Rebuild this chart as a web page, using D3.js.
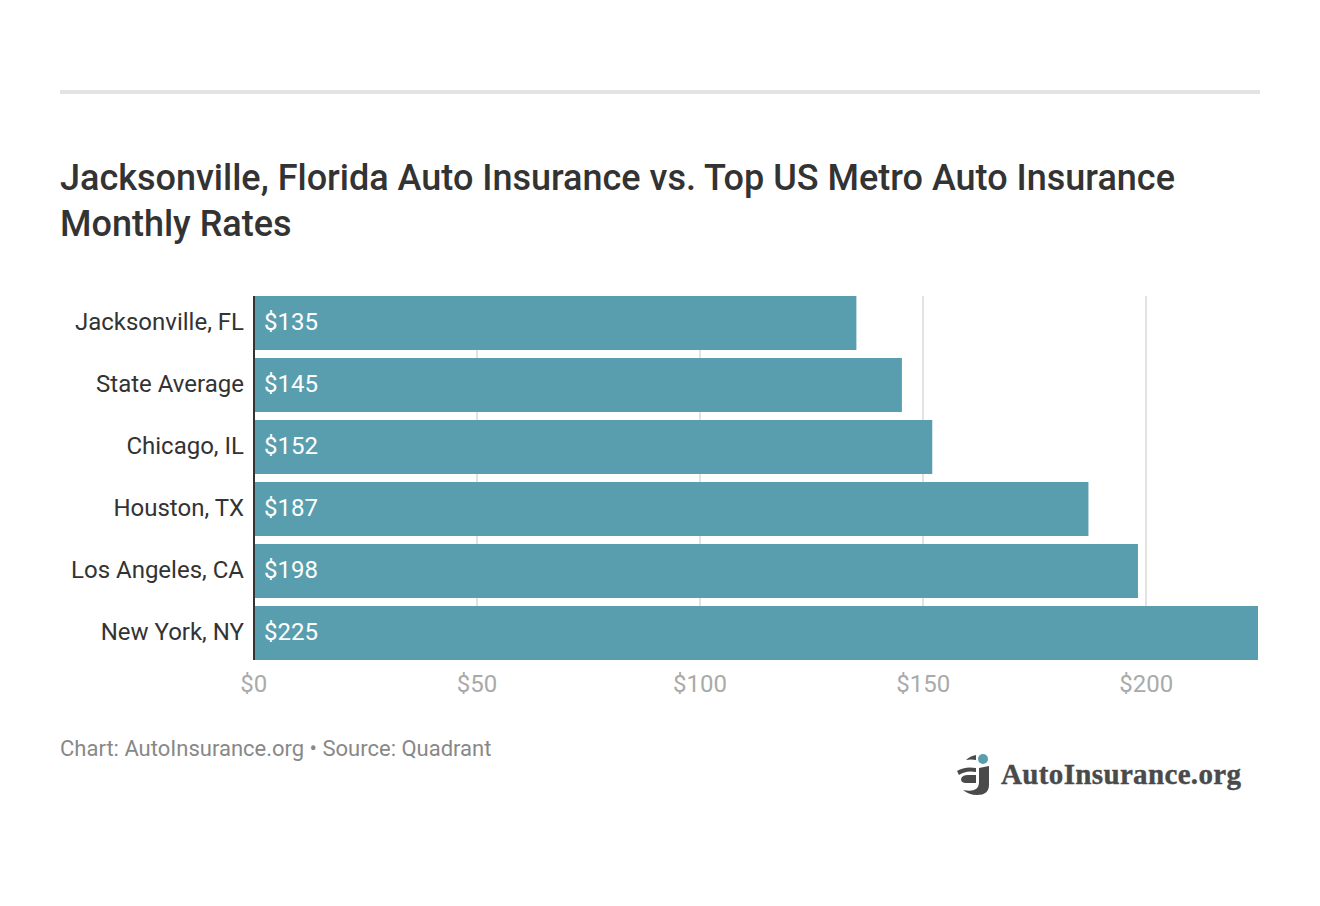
<!DOCTYPE html>
<html>
<head>
<meta charset="utf-8">
<script src="https://cdn.jsdelivr.net/npm/d3@7"></script>
<style>
  html, body { margin: 0; padding: 0; background: #fff; }
  svg { display: block; }
</style>
</head>
<body>
<svg id="chart" width="1320" height="906" font-family="Roboto, sans-serif"></svg>
<script>
// Chart data
var cities = ["Jacksonville, FL", "State Average", "Chicago, IL", "Houston, TX", "Los Angeles, CA", "New York, NY"];
var rates = [135, 145.2, 152, 187, 198.1, 225];
var xTicks = [0, 50, 100, 150, 200];
var titleLines = ["Jacksonville, Florida Auto Insurance vs. Top US Metro Auto Insurance", "Monthly Rates"];
var footer = "Chart: AutoInsurance.org \u2022 Source: Quadrant";

var svg = d3.select("#chart");

// Top rule
svg.append("rect")
  .attr("x", 60).attr("y", 90)
  .attr("width", 1200).attr("height", 4)
  .attr("fill", "#e3e3e3");

// Title
svg.selectAll(".title")
  .data(titleLines)
  .enter()
  .append("text")
  .attr("class", "title")
  .attr("x", 60)
  .attr("y", (d, i) => 190 + i * 46)
  .attr("font-size", 36)
  .attr("font-weight", 500)
  .attr("fill", "#333333")
  .text(d => d);

// Scales
var x = d3.scaleLinear().domain([0, 225]).range([254, 1258]);
var y = d3.scaleBand().domain(cities).range([292, 664]).paddingInner(8 / 62).paddingOuter(4 / 62);

// Grid lines sit behind the bars, snapped to whole pixels so they stay crisp
svg.selectAll(".grid")
  .data(xTicks.slice(1))
  .enter()
  .append("line")
  .attr("class", "grid")
  .attr("x1", d => Math.round(x(d))).attr("x2", d => Math.round(x(d)))
  .attr("y1", 296).attr("y2", 660)
  .attr("stroke", "#e3e3e3")
  .attr("stroke-width", 2);

// Bars
svg.selectAll(".bar")
  .data(rates)
  .enter()
  .append("rect")
  .attr("class", "bar")
  .attr("x", x(0))
  .attr("y", (d, i) => y(cities[i]))
  .attr("width", d => x(d) - x(0))
  .attr("height", y.bandwidth())
  .attr("fill", "#589eae");

// Bar value labels
svg.selectAll(".value")
  .data(rates)
  .enter()
  .append("text")
  .attr("class", "value")
  .attr("x", x(0) + 10)
  .attr("y", (d, i) => y(cities[i]) + y.bandwidth() / 2 - 1)
  .attr("dy", "0.35em")
  .attr("font-size", 24)
  .attr("fill", "#ffffff")
  .text(d => "$" + Math.round(d));

// Category axis
var yAxis = svg.append("g")
  .attr("transform", "translate(254,-1)")
  .call(d3.axisLeft(y).tickSize(0).tickPadding(10));
yAxis.select(".domain").remove();
yAxis.selectAll("text")
  .attr("font-size", 24)
  .attr("font-family", "Roboto, sans-serif")
  .attr("fill", "#333333");

// Baseline
svg.append("line")
  .attr("x1", x(0)).attr("x2", x(0))
  .attr("y1", 296).attr("y2", 660)
  .attr("stroke", "#333333")
  .attr("stroke-width", 2);

// Value axis
var xAxis = svg.append("g")
  .attr("transform", "translate(-0.7,660)")
  .call(d3.axisBottom(x).tickValues(xTicks).tickFormat(d => "$" + d).tickSize(0).tickPadding(15));
xAxis.select(".domain").remove();
xAxis.selectAll("text")
  .attr("font-size", 24)
  .attr("font-family", "Roboto, sans-serif")
  .attr("fill", "#aaaaaa");

// Footer
svg.append("text")
  .attr("x", 60).attr("y", 756)
  .attr("font-size", 22)
  .attr("fill", "#888888")
  .text(footer);

// Logo
var logo = svg.append("g").attr("fill", "#4a4a4a");
logo.append("circle").attr("cx", 983).attr("cy", 759).attr("r", 5).attr("fill", "#589eae");
logo.append("path").attr("d", "M966 760 Q970 756 976 755 L976 760 Q971 759 966 760 Z");
logo.append("path").attr("d", "M957 771 Q965 766 976 768 L976 772 Q966 770 959 775 Z");
logo.append("path").attr("d", "M976 775 L976 783 L966 783 Q961 783 961 779 Q962 775 968 775 Z");
logo.append("path").attr("d", "M979 768 L989 766 L989 785 Q989 795 977 795 Q969 795 963 790 Q972 792 976 789 Q979 787 979 782 Z");
logo.append("text")
  .attr("x", 1001).attr("y", 784)
  .attr("font-family", "'Liberation Serif', serif")
  .attr("font-size", 29)
  .attr("font-weight", 700)
  .attr("stroke", "#4a4a4a")
  .attr("stroke-width", 0.4)
  .attr("textLength", 240)
  .text("AutoInsurance.org");
</script>
</body>
</html>
